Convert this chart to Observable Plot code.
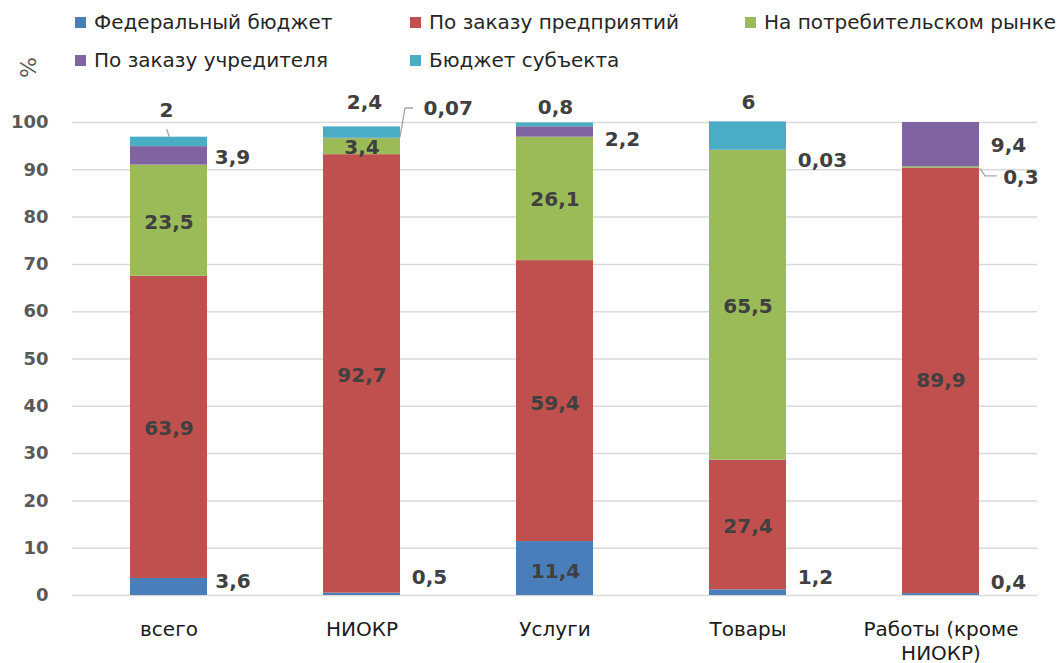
<!DOCTYPE html>
<html>
<head>
<meta charset="utf-8">
<script src="https://cdn.jsdelivr.net/npm/d3@7"></script>
<script src="https://cdn.jsdelivr.net/npm/@observablehq/plot@0.6"></script>
<style>
  html, body { margin: 0; padding: 0; background: #fff; }
  #wrap { position: relative; width: 1058px; height: 663px; font-family: "DejaVu Sans", sans-serif; }
  #legend { position: relative; width: 1058px; height: 85px; }
  .item { position: absolute; font-size: 20px; color: #262626; white-space: nowrap; line-height: 24px; }
  .sw { display: inline-block; width: 11px; height: 11px; margin-right: 8px; vertical-align: 1px; }
  #pct { position: absolute; left: 18px; top: 55px; transform: rotate(-90deg); font-size: 22px; color: #595959; }
  svg { display: block; }
</style>
</head>
<body>
<div id="wrap">
  <div id="legend"></div>
  <div id="chart"></div>
</div>
<script>
// ---- data ----
const categories = ["всего", "НИОКР", "Услуги", "Товары", "Работы (кроме НИОКР)"];
const seriesNames = ["Федеральный бюджет", "По заказу предприятий", "На потребительском рынке", "По заказу учредителя", "Бюджет субъекта"];
const federal    = [3.6, 0.5, 11.4, 1.2, 0.4];
const enterprise = [63.9, 92.7, 59.4, 27.4, 89.9];
const consumer   = [23.5, 3.4, 26.1, 65.5, 0.3];
const founder    = [3.9, 0.07, 2.2, 0.03, 9.4];
const regional   = [2, 2.4, 0.8, 6, 0];
const yTicks = [0, 10, 20, 30, 40, 50, 60, 70, 80, 90, 100];
const seriesColors = ["#4a7ebb", "#c0504d", "#9bbb59", "#8064a2", "#4bacc6"];

// ---- label placement (pixel offsets from segment middle), [categoryIndex][seriesIndex] ----
const labelOffsets = [
  [[64, -5, "middle"], [0, 1, "middle"], [0, 2, "middle"], [63.5, 1.5, "middle"], [-2.5, -31.5, "middle"]],
  [[67.5, -16.5, "middle"], [0, 2, "middle"], [0, 0.6, "middle"], [61.5, -30, "start"], [2.5, -30.4, "middle"]],
  [[0.5, 3, "middle"], [0, 2.4, "middle"], [0, 0.6, "middle"], [67.5, 7.8, "middle"], [0.5, -17.7, "middle"]],
  [[67.5, -15.5, "middle"], [0, 1.5, "middle"], [0, 1.2, "middle"], [74.5, 10.3, "middle"], [0.5, -33.9, "middle"]],
  [[67.5, -12.3, "middle"], [0, 0, "middle"], [62.2, 9.8, "start"], [67.5, 0.8, "middle"], null]
];
// leader lines: [categoryIndex, seriesIndex, [[dx,dy],...]] relative to segment middle (or top)
const leaders = [
  [0, 4, [[-1.8, -12.1], [0.8, -4.7]]],
  [1, 3, [[38.5, -0.9], [43.5, -29.9], [51.5, -29.9]]],
  [4, 2, [[39.5, 1.1], [44.5, 8.8], [56.2, 8.8]]]
];

// ---- build table ----
const seriesValues = [federal, enterprise, consumer, founder, regional];
const rows = [];
categories.forEach((cat, i) => {
  let acc = 0;
  seriesNames.forEach((s, j) => {
    const v = seriesValues[j][i];
    rows.push({cat, ci: i, series: s, si: j, value: v, y0: acc, y1: acc + v, mid: acc + v / 2});
    acc += v;
  });
});

// ---- legend ----
const legend = document.getElementById("legend");
const legendPos = [[75, 10], [410, 10], [745, 10], [75, 48], [410, 48]];
seriesNames.forEach((s, j) => {
  const d = document.createElement("div");
  d.className = "item";
  d.style.left = legendPos[j][0] + "px";
  d.style.top = legendPos[j][1] + "px";
  d.innerHTML = `<span class="sw" style="background:${seriesColors[j]}"></span>${s}`;
  legend.appendChild(d);
});
const pct = document.createElement("div");
pct.id = "pct"; pct.textContent = "%";
legend.appendChild(pct);

// ---- marks ----
const fmt = v => String(v).replace(".", ",");
const labelMarks = [];
rows.forEach(r => {
  const o = labelOffsets[r.ci][r.si];
  if (!o || r.value === 0) return;
  labelMarks.push(Plot.text([r], {
    x: "cat", y: "mid", text: d => fmt(d.value),
    dx: o[0], dy: o[1], textAnchor: o[2],
    fill: "#404040", fontSize: 20, fontWeight: "bold", fontFamily: "DejaVu Sans"
  }));
});

function leaderMark(index, scales) {
  const x = scales.x, y = scales.y;
  const bw = typeof x.bandwidth === "function" ? x.bandwidth() : (x.bandwidth || 0);
  const g = d3.create("svg:g").attr("fill", "none").attr("stroke", "#a6a6a6").attr("stroke-width", 1.3);
  for (const [ci, si, pts] of leaders) {
    const r = rows.find(d => d.ci === ci && d.si === si);
    const cx = x(r.cat) + bw / 2;
    const cy = y(r.mid);
    g.append("polyline").attr("points", pts.map(([dx, dy]) => `${cx + dx},${cy + dy}`).join(" "));
  }
  return g.node();
}

const chart = Plot.plot({
  width: 1058,
  height: 578,
  marginLeft: 72,
  marginRight: 21,
  marginTop: 37,
  marginBottom: 68,
  style: {fontFamily: "DejaVu Sans", background: "#fff", overflow: "visible"},
  x: {domain: categories, paddingInner: 0.6, paddingOuter: 0.3, label: null},
  y: {domain: [0, 100], label: null},
  color: {domain: seriesNames, range: seriesColors},
  marks: [
    Plot.gridY(yTicks, {stroke: "#d9d9d9", strokeOpacity: 1, strokeWidth: 1.5}),
    Plot.barY(rows.filter(d => d.value > 0), {x: "cat", y1: "y0", y2: "y1", fill: "series", inset: 0}),
    Plot.axisY({ticks: yTicks, tickSize: 0, tickPadding: 24, fontSize: 18, fontWeight: "bold", fill: "#595959", label: null}),
    Plot.axisX({tickSize: 0, tickPadding: 23, fontSize: 20, fill: "#1a1a1a", lineHeight: 1.2,
      tickFormat: d => d === "Работы (кроме НИОКР)" ? "Работы (кроме\nНИОКР)" : d, label: null}),
    leaderMark,
    ...labelMarks
  ]
});
document.getElementById("chart").appendChild(chart);
</script>
</body>
</html>
